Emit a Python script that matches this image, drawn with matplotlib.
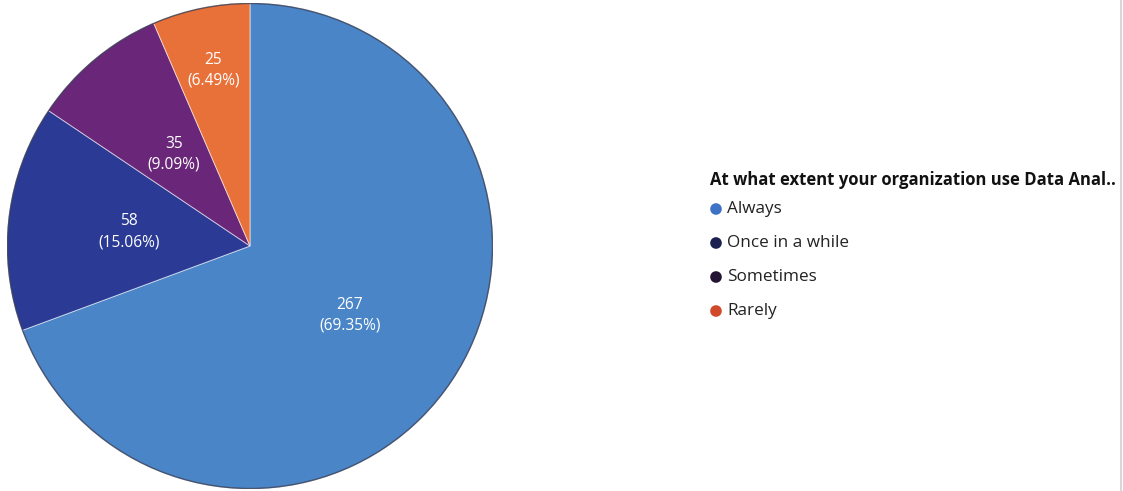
import matplotlib
matplotlib.use("Agg")
import matplotlib.pyplot as plt
from matplotlib.patches import Circle
import numpy as np

# Survey responses
categories = ["Always", "Once in a while", "Sometimes", "Rarely"]
counts = [267, 58, 35, 25]
percent_labels = ["69.35%", "15.06%", "9.09%", "6.49%"]
legend_title = "At what extent your organization use Data Anal.."

# Styling
wedge_colors = ["#4a85c7", "#2b3b95", "#6a2679", "#e8713a"]
legend_colors = ["#3d72c6", "#1b2050", "#221432", "#d2482a"]
label_radius = [0.50, 0.50, 0.49, 0.74]

W, H = 1123, 491
fig = plt.figure(figsize=(W / 100, H / 100), dpi=100)
fig.patch.set_facecolor("white")

cx, cy, R = 250, 246, 243
ax = fig.add_axes([(cx - R) / W, (H - cy - R) / H, 2 * R / W, 2 * R / H])

wedges, _ = ax.pie(
    counts,
    colors=wedge_colors,
    startangle=90,
    counterclock=False,
    radius=1.0,
    wedgeprops=dict(edgecolor=(1, 1, 1, 0.55), linewidth=0.7),
)
ax.set_xlim(-1, 1)
ax.set_ylim(-1, 1)
ax.set_aspect("equal")
ax.axis("off")
ax.add_patch(Circle((0, 0), 0.998, fill=False, edgecolor="#3a3f55", linewidth=1.0, alpha=0.8))

for w, n, p, rf in zip(wedges, counts, percent_labels, label_radius):
    mid = np.deg2rad((w.theta1 + w.theta2) / 2)
    x, y = rf * np.cos(mid), rf * np.sin(mid)
    ax.text(x, y, f"{n}\n({p})", ha="center", va="center", color="white",
            fontsize=11.2, family="Open Sans", linespacing=1.4)

# Legend drawn on a pixel-coordinate overlay
lg = fig.add_axes([0, 0, 1, 1])
lg.set_xlim(0, W)
lg.set_ylim(H, 0)
lg.axis("off")
lg.patch.set_alpha(0)

lg.text(710, 180, legend_title, fontsize=12, fontweight="bold",
        family="Open Sans", color="#111111", ha="left", va="center")
ys = [209, 243, 277, 311]
for name, col, yy in zip(categories, legend_colors, ys):
    lg.scatter([716], [yy], s=70, color=col, edgecolors="none")
    lg.text(727, yy, name, fontsize=12.3, family="Open Sans",
            color="#222222", ha="left", va="center")

# Right border line
lg.plot([1121, 1121], [0, H], color="#d0d0d0", linewidth=1.2)

fig.savefig("out.png", dpi=100, facecolor="white")
